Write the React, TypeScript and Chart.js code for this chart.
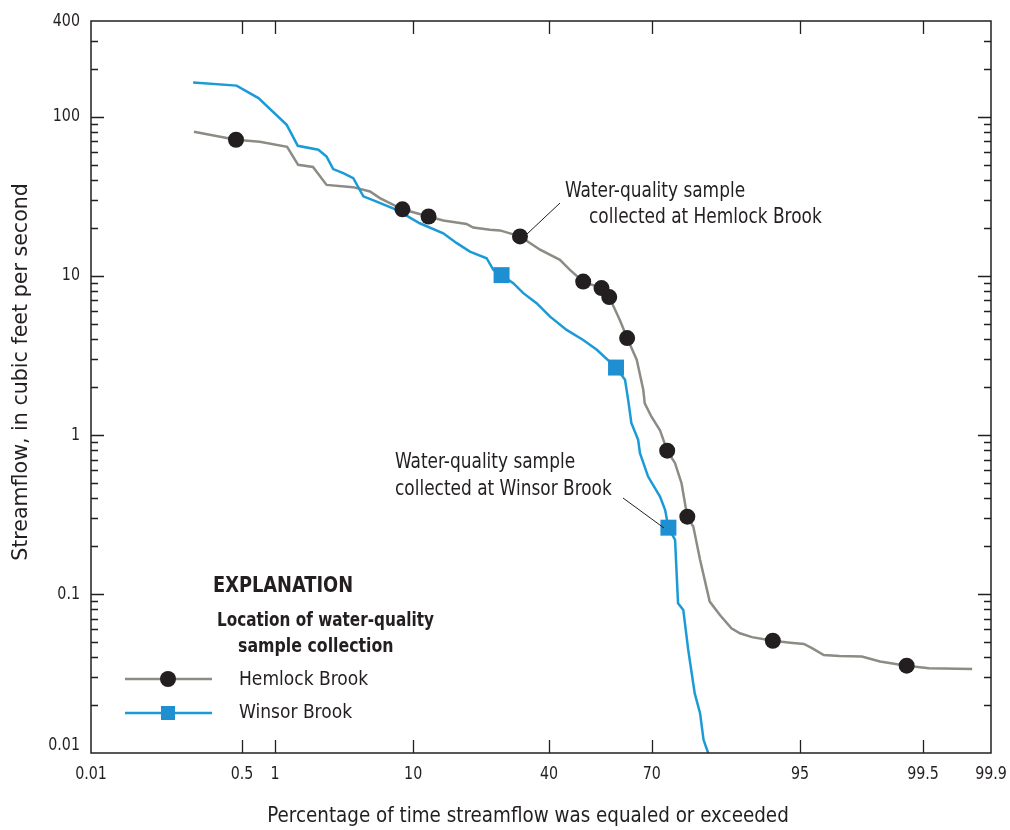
import React, { useEffect, useRef } from 'react';
import { Chart, registerables, LinearScale } from 'chart.js';

// ---------------- data ----------------
const hemlockPercent = [0.164, 0.437, 0.73, 1.27, 1.57, 2.07, 2.64, 4.12, 5.39, 6.26, 7.25, 8.65, 12.2, 14.6, 19.0, 20.4, 24.2, 26.6, 31.8, 37.4, 43.2, 46.2, 50.2, 55.7, 58.0, 61.1, 63.2, 65.9, 67.7, 68.1, 69.9, 72.1, 73.9, 75.8, 77.3, 78.6, 79.9, 81.3, 83.2, 85.1, 87.0, 88.3, 90.0, 92.5, 94.2, 95.3, 95.9, 96.6, 97.4, 98.27, 98.78, 99.29, 99.56, 99.84];
const hemlockFlow = [80.5, 71.7, 69.6, 64.7, 49.9, 48.3, 37.3, 36.1, 33.9, 30.8, 28.6, 26.2, 23.6, 22.3, 21.2, 20.1, 19.5, 19.3, 17.7, 14.6, 12.6, 10.9, 9.2, 8.37, 7.35, 5.28, 4.06, 2.97, 1.92, 1.58, 1.3, 1.07, 0.796, 0.664, 0.497, 0.306, 0.265, 0.164, 0.0895, 0.0735, 0.0608, 0.0566, 0.0535, 0.0508, 0.0494, 0.0485, 0.0455, 0.0413, 0.0407, 0.0404, 0.0376, 0.0354, 0.0341, 0.0337];

const winsorPercent = [0.161, 0.443, 0.71, 1.26, 1.56, 2.28, 2.64, 2.96, 3.51, 4.14, 4.86, 5.96, 7.98, 10.9, 14.6, 17.0, 19.7, 23.4, 25.0, 27.0, 30.0, 32.7, 36.4, 40.3, 45.2, 50.2, 54.3, 60.0, 62.6, 63.5, 64.4, 66.3, 66.8, 69.0, 72.1, 73.4, 74.2, 75.8, 76.5, 77.7, 78.8, 80.2, 81.3, 82.0, 82.9];
const winsorFlow = [164, 157, 131, 89, 65.7, 62, 56.2, 46.9, 44.2, 41.1, 31.6, 29.3, 26.0, 21.4, 18.5, 16.1, 14.2, 12.9, 10.9, 10.1, 9.0, 7.78, 6.73, 5.54, 4.57, 3.95, 3.43, 2.65, 2.22, 1.66, 1.19, 0.931, 0.767, 0.547, 0.409, 0.337, 0.261, 0.219, 0.0873, 0.0793, 0.0445, 0.0237, 0.0178, 0.0121, 0.01];

const hemlockSamplePercent = [0.437, 8.65, 12.2, 31.8, 50.2, 55.7, 58.0, 63.2, 73.9, 78.6, 92.5, 99.29];
const hemlockSampleFlow = [71.7, 26.2, 23.6, 17.7, 9.2, 8.37, 7.35, 4.06, 0.796, 0.306, 0.0508, 0.0354];
const winsorSamplePercent = [27.0, 60.0, 74.2];
const winsorSampleFlow = [10.1, 2.65, 0.261];

const xTickValues = [0.01, 0.5, 1, 10, 40, 70, 95, 99.5, 99.9];
const xTickLabels = ['0.01', '0.5', '1', '10', '40', '70', '95', '99.5', '99.9'];
const yTickValues = [0.01, 0.1, 1, 10, 100, 400];
const yTickLabels = ['0.01', '0.1', '1', '10', '100', '400'];

const xTitle = 'Percentage of time streamflow was equaled or exceeded';
const yTitle = 'Streamflow, in cubic feet per second';
const legendTitle = 'EXPLANATION';
const legendSubtitle = ['Location of water-quality', 'sample collection'];
const seriesNames = ['Hemlock Brook', 'Winsor Brook'];
const hemlockNote = ['Water-quality sample', 'collected at Hemlock Brook'];
const winsorNote = ['Water-quality sample', 'collected at Winsor Brook'];

// ---------------- styles ----------------
const GRAY = '#8c8b84';
const BLUE = '#1a9bd7';
const SQUARE = '#1e90d2';
const INK = '#231f20';
const FONT = "'Liberation Sans Narrow', 'DejaVu Sans Condensed', 'Roboto', sans-serif";

// ---------------- probability scale ----------------
function probit(p: number): number {
  const a = [-3.969683028665376e1, 2.209460984245205e2, -2.759285104469687e2, 1.38357751867269e2, -3.066479806614716e1, 2.506628277459239];
  const b = [-5.447609879822406e1, 1.615858368580409e2, -1.556989798598866e2, 6.680131188771972e1, -1.328068155288572e1];
  const c = [-7.784894002430293e-3, -3.223964580411365e-1, -2.400758277161838, -2.549671010229134, 4.374664141464968, 2.938163982698783];
  const d = [7.784695709041462e-3, 3.224671290700398e-1, 2.445134137142996, 3.754408661907416];
  const pl = 0.02425;
  if (p < pl) {
    const q = Math.sqrt(-2 * Math.log(p));
    return (((((c[0] * q + c[1]) * q + c[2]) * q + c[3]) * q + c[4]) * q + c[5]) / ((((d[0] * q + d[1]) * q + d[2]) * q + d[3]) * q + 1);
  }
  if (p > 1 - pl) {
    const q = Math.sqrt(-2 * Math.log(1 - p));
    return -(((((c[0] * q + c[1]) * q + c[2]) * q + c[3]) * q + c[4]) * q + c[5]) / ((((d[0] * q + d[1]) * q + d[2]) * q + d[3]) * q + 1);
  }
  const q = p - 0.5;
  const r = q * q;
  return ((((((a[0] * r + a[1]) * r + a[2]) * r + a[3]) * r + a[4]) * r + a[5]) * q) / (((((b[0] * r + b[1]) * r + b[2]) * r + b[3]) * r + b[4]) * r + 1);
}
function ncdf(z: number): number {
  const t = 1 / (1 + 0.2316419 * Math.abs(z));
  const dd = 0.3989423 * Math.exp((-z * z) / 2);
  const pr = dd * t * (0.3193815 + t * (-0.3565638 + t * (1.781478 + t * (-1.821256 + t * 1.330274))));
  return z > 0 ? 1 - pr : pr;
}

class ProbabilityScale extends (LinearScale as any) {
  static id = 'probability';
  static defaults = {};
  getPixelForValue(value: number) {
    if (value === null || value === undefined || isNaN(value)) return NaN;
    const z0 = probit(this.min / 100);
    const z1 = probit(this.max / 100);
    return this.getPixelForDecimal((probit(value / 100) - z0) / (z1 - z0));
  }
  getValueForPixel(pixel: number) {
    const z0 = probit(this.min / 100);
    const z1 = probit(this.max / 100);
    return ncdf(z0 + this.getDecimalForPixel(pixel) * (z1 - z0)) * 100;
  }
}

Chart.register(...registerables);
Chart.register(ProbabilityScale as any);

const pts = (xs: number[], ys: number[]) => xs.map((x, i) => ({ x, y: ys[i] }));

function txt(ctx: CanvasRenderingContext2D, s: string, x: number, y: number, size: number, weight = 'normal', align: CanvasTextAlign = 'left', sx = 1) {
  ctx.save();
  ctx.font = `${weight} ${size}px ${FONT}`;
  ctx.textAlign = align;
  ctx.textBaseline = 'middle';
  ctx.fillStyle = INK;
  ctx.translate(x, y);
  ctx.scale(sx, 1);
  ctx.fillText(s, 0, 0);
  ctx.restore();
}

const decorPlugin = {
  id: 'decor',
  afterDraw(chart: any) {
    const { ctx, chartArea: ca, scales } = chart;
    const xs = scales.x;
    const ys = scales.y;
    ctx.save();
    // frame
    ctx.strokeStyle = INK;
    ctx.lineWidth = 1.5;
    ctx.strokeRect(ca.left, ca.top, ca.right - ca.left, ca.bottom - ca.top);
    ctx.lineWidth = 1.3;
    ctx.beginPath();
    // x ticks, bottom and top, inward
    xTickValues.forEach((v) => {
      const px = Math.round(xs.getPixelForValue(v)) + 0.5;
      if (px < ca.left + 2 || px > ca.right - 2) return;
      ctx.moveTo(px, ca.bottom);
      ctx.lineTo(px, ca.bottom - 13);
      ctx.moveTo(px, ca.top);
      ctx.lineTo(px, ca.top + 13);
    });
    // y ticks, major and minor, left and right
    for (let e = -2; e <= 2; e++) {
      for (let m = 1; m <= 9; m++) {
        const v = m * Math.pow(10, e);
        if (v > 300.5) continue;
        if (m === 1 && e === -2) continue;
        const py = Math.round(ys.getPixelForValue(v)) + 0.5;
        const len = m === 1 ? 13 : 7;
        ctx.moveTo(ca.left, py);
        ctx.lineTo(ca.left + len, py);
        ctx.moveTo(ca.right, py);
        ctx.lineTo(ca.right - len, py);
      }
    }
    ctx.stroke();

    // tick labels
    yTickValues.forEach((v, i) => {
      let py = ys.getPixelForValue(v);
      if (i === 0) py -= 8;
      txt(ctx, yTickLabels[i], ca.left - 11, py, 18, 'normal', 'right', 0.88);
    });
    xTickValues.forEach((v, i) => {
      const px = xs.getPixelForValue(v);
      txt(ctx, xTickLabels[i], px, ca.bottom + 21, 18, 'normal', 'center', 0.88);
    });

    // axis titles
    txt(ctx, xTitle, 528, 817, 21, 'normal', 'center', 0.97);
    ctx.save();
    ctx.translate(22, 372);
    ctx.rotate(-Math.PI / 2);
    txt(ctx, yTitle, 0, 0, 21, 'normal', 'center', 1.09);
    ctx.restore();

    // legend
    txt(ctx, legendTitle, 213, 586, 22, 'bold', 'left', 0.9);
    txt(ctx, legendSubtitle[0], 217, 621, 19.5, 'bold', 'left', 0.87);
    txt(ctx, legendSubtitle[1], 238, 647, 19.5, 'bold', 'left', 0.9);
    ctx.lineWidth = 2.5;
    ctx.strokeStyle = GRAY;
    ctx.beginPath();
    ctx.moveTo(125, 679);
    ctx.lineTo(212, 679);
    ctx.stroke();
    ctx.fillStyle = INK;
    ctx.beginPath();
    ctx.arc(168, 679, 8, 0, Math.PI * 2);
    ctx.fill();
    ctx.strokeStyle = BLUE;
    ctx.beginPath();
    ctx.moveTo(125, 713);
    ctx.lineTo(212, 713);
    ctx.stroke();
    ctx.fillStyle = SQUARE;
    ctx.fillRect(161, 706, 14, 14);
    txt(ctx, seriesNames[0], 239, 680, 20, 'normal', 'left', 0.95);
    txt(ctx, seriesNames[1], 239, 713, 20, 'normal', 'left', 0.95);

    // annotations
    txt(ctx, hemlockNote[0], 565, 192, 20.5, 'normal', 'left', 0.92);
    txt(ctx, hemlockNote[1], 589, 218, 20.5, 'normal', 'left', 0.92);
    txt(ctx, winsorNote[0], 395, 463, 20.5, 'normal', 'left', 0.92);
    txt(ctx, winsorNote[1], 395, 490, 20.5, 'normal', 'left', 0.92);
    ctx.strokeStyle = INK;
    ctx.lineWidth = 1;
    ctx.beginPath();
    ctx.moveTo(560, 203);
    ctx.lineTo(527, 234);
    ctx.moveTo(623, 498);
    ctx.lineTo(664, 528);
    ctx.stroke();
    ctx.restore();
  },
};

export default function App() {
  const ref = useRef<HTMLCanvasElement | null>(null);
  useEffect(() => {
    document.body.style.margin = '0';
    const canvas = ref.current;
    if (!canvas) return;
    const chart = new Chart(canvas, {
      type: 'line',
      data: {
        datasets: [
          {
            label: 'Hemlock Brook samples',
            data: pts(hemlockSamplePercent, hemlockSampleFlow),
            showLine: false,
            pointStyle: 'circle',
            pointRadius: 8,
            pointBackgroundColor: INK,
            pointBorderColor: INK,
            pointBorderWidth: 0,
            order: 0,
          },
          {
            label: 'Winsor Brook samples',
            data: pts(winsorSamplePercent, winsorSampleFlow),
            showLine: false,
            pointStyle: 'rect',
            pointRadius: 11.3,
            pointBackgroundColor: SQUARE,
            pointBorderColor: SQUARE,
            pointBorderWidth: 0,
            order: 0,
          },
          {
            label: 'Hemlock Brook',
            data: pts(hemlockPercent, hemlockFlow),
            borderColor: GRAY,
            borderWidth: 2.5,
            pointRadius: 0,
            tension: 0,
            fill: false,
            order: 2,
          },
          {
            label: 'Winsor Brook',
            data: pts(winsorPercent, winsorFlow),
            borderColor: BLUE,
            borderWidth: 2.5,
            pointRadius: 0,
            tension: 0,
            fill: false,
            order: 1,
          },
        ],
      },
      options: {
        animation: false,
        responsive: false,
        devicePixelRatio: 1,
        layout: { padding: { top: 21, right: 19, left: 0, bottom: 0 } },
        plugins: { legend: { display: false }, tooltip: { enabled: false }, title: { display: false } },
        scales: {
          x: {
            type: 'probability' as any,
            min: 0.01,
            max: 99.9,
            grid: { display: false, drawTicks: false },
            border: { display: false },
            ticks: { display: false },
            afterBuildTicks: (s: any) => {
              s.ticks = xTickValues.map((v) => ({ value: v }));
            },
            afterFit: (s: any) => {
              s.height = 77;
            },
          } as any,
          y: {
            type: 'logarithmic',
            min: 0.01,
            max: 400,
            grid: { display: false, drawTicks: false },
            border: { display: false },
            ticks: { display: false },
            afterBuildTicks: (s: any) => {
              s.ticks = yTickValues.map((v) => ({ value: v }));
            },
            afterFit: (s: any) => {
              s.width = 91;
            },
          } as any,
        },
      } as any,
      plugins: [decorPlugin],
    });
    return () => chart.destroy();
  }, []);
  return (
    <div style={{ width: 1010, height: 830, background: '#fff' }}>
      <canvas ref={ref} width={1010} height={830} style={{ display: 'block', width: 1010, height: 830 }} />
    </div>
  );
}
